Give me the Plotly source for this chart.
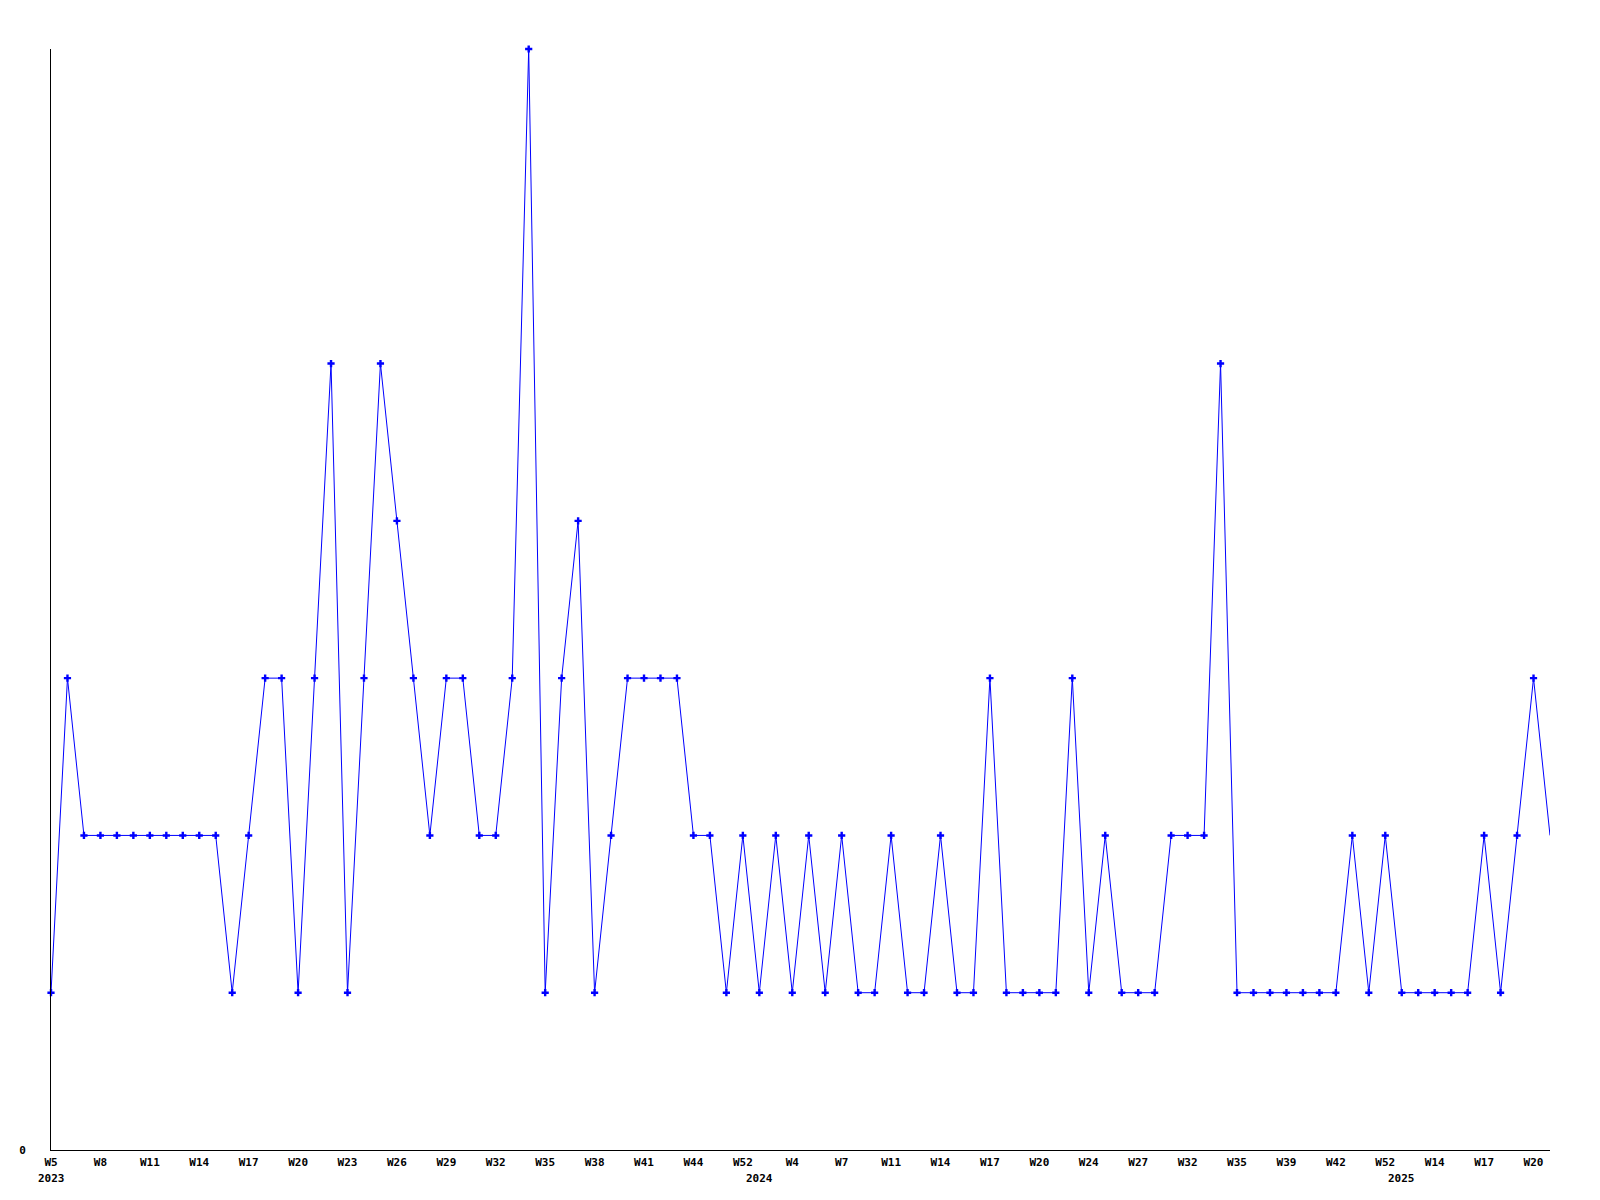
import plotly.graph_objects as go

# ---- data ----
years = [2023] * 43 + [2024] * 39 + [2025] * 10
weeks = [
    5, 6, 7, 8, 9, 10, 11, 12, 13, 14, 15, 16, 17, 18, 19, 20, 21, 22, 23, 24,
    25, 26, 27, 28, 29, 30, 31, 32, 33, 34, 35, 36, 37, 38, 39, 40, 41, 42, 43, 44,
    46, 49, 52,
    1, 3, 4, 5, 6, 7, 8, 9, 11, 12, 13, 14, 15, 16, 17, 18, 19, 20, 22, 23, 24,
    25, 26, 27, 28, 30, 32, 33, 34, 35, 37, 38, 39, 40, 41, 42, 45, 49, 52,
    2, 9, 14, 15, 16, 17, 18, 19, 20, 21,
]
values = [
    1, 3, 2, 2, 2, 2, 2, 2, 2, 2, 2, 1, 2, 3, 3, 1, 3, 5, 1, 3,
    5, 4, 3, 2, 3, 3, 2, 2, 3, 7, 1, 3, 4, 1, 2, 3, 3, 3, 3, 2,
    2, 1, 2, 1, 2, 1, 2, 1, 2, 1, 1, 2, 1, 1, 2, 1, 1, 3, 1, 1,
    1, 1, 3, 1, 2, 1, 1, 1, 2, 2, 2, 5, 1, 1, 1, 1, 1, 1, 1, 2,
    1, 2, 1, 1, 1, 1, 1, 2, 1, 2, 3, 2,
]
year_labels = ["2023", "2024", "2025"]
y_tick_labels = ["0"]

categories = [f"{y}-W{w:02d}" for y, w in zip(years, weeks)]
week_text = [f"W{w}" for w in weeks]

BLUE = "#0000FF"
FONT = "DejaVu Sans Mono"

fig = go.Figure()
fig.add_trace(go.Scatter(
    x=categories, y=values, mode="lines",
    line=dict(color=BLUE, width=1),
    hoverinfo="skip", showlegend=False,
))
fig.add_trace(go.Scatter(
    x=categories[:-1], y=values[:-1], mode="markers",
    marker=dict(symbol="cross", size=6, color=BLUE, line=dict(width=0)),
    cliponaxis=False, showlegend=False,
))

step = 3
tickvals = categories[::step]
ticktext = week_text[::step]

# year annotations at first week of each year
annotations = []
for yl in year_labels:
    idx = years.index(int(yl))
    annotations.append(dict(
        x=categories[idx], y=0, xref="x", yref="paper",
        text=yl, showarrow=False, xanchor="center", yanchor="top",
        yshift=-20,
        font=dict(family=FONT, size=11, color="black", weight="bold"),
    ))

n = len(categories)
fig.update_layout(
    width=1600, height=1200,
    margin=dict(l=43, r=58, t=41, b=58),
    paper_bgcolor="white", plot_bgcolor="white",
    xaxis=dict(
        type="category", categoryorder="array", categoryarray=categories,
        range=[0, n - 1],
        tickvals=tickvals, ticktext=ticktext,
        ticks="", showgrid=False, zeroline=False,
        showline=True, linecolor="black", linewidth=1,
        tickangle=0,
        tickfont=dict(family=FONT, size=11, color="black", weight="bold"),
        ticklabelstandoff=2,
    ),
    yaxis=dict(
        range=[0, 7],
        tickvals=[0], ticktext=y_tick_labels,
        ticks="", showgrid=False, zeroline=False,
        showline=True, linecolor="black", linewidth=1,
        tickfont=dict(family=FONT, size=11, color="black", weight="bold"),
        ticklabelstandoff=22,
    ),
    annotations=annotations,
)

fig.write_html("out.html")
